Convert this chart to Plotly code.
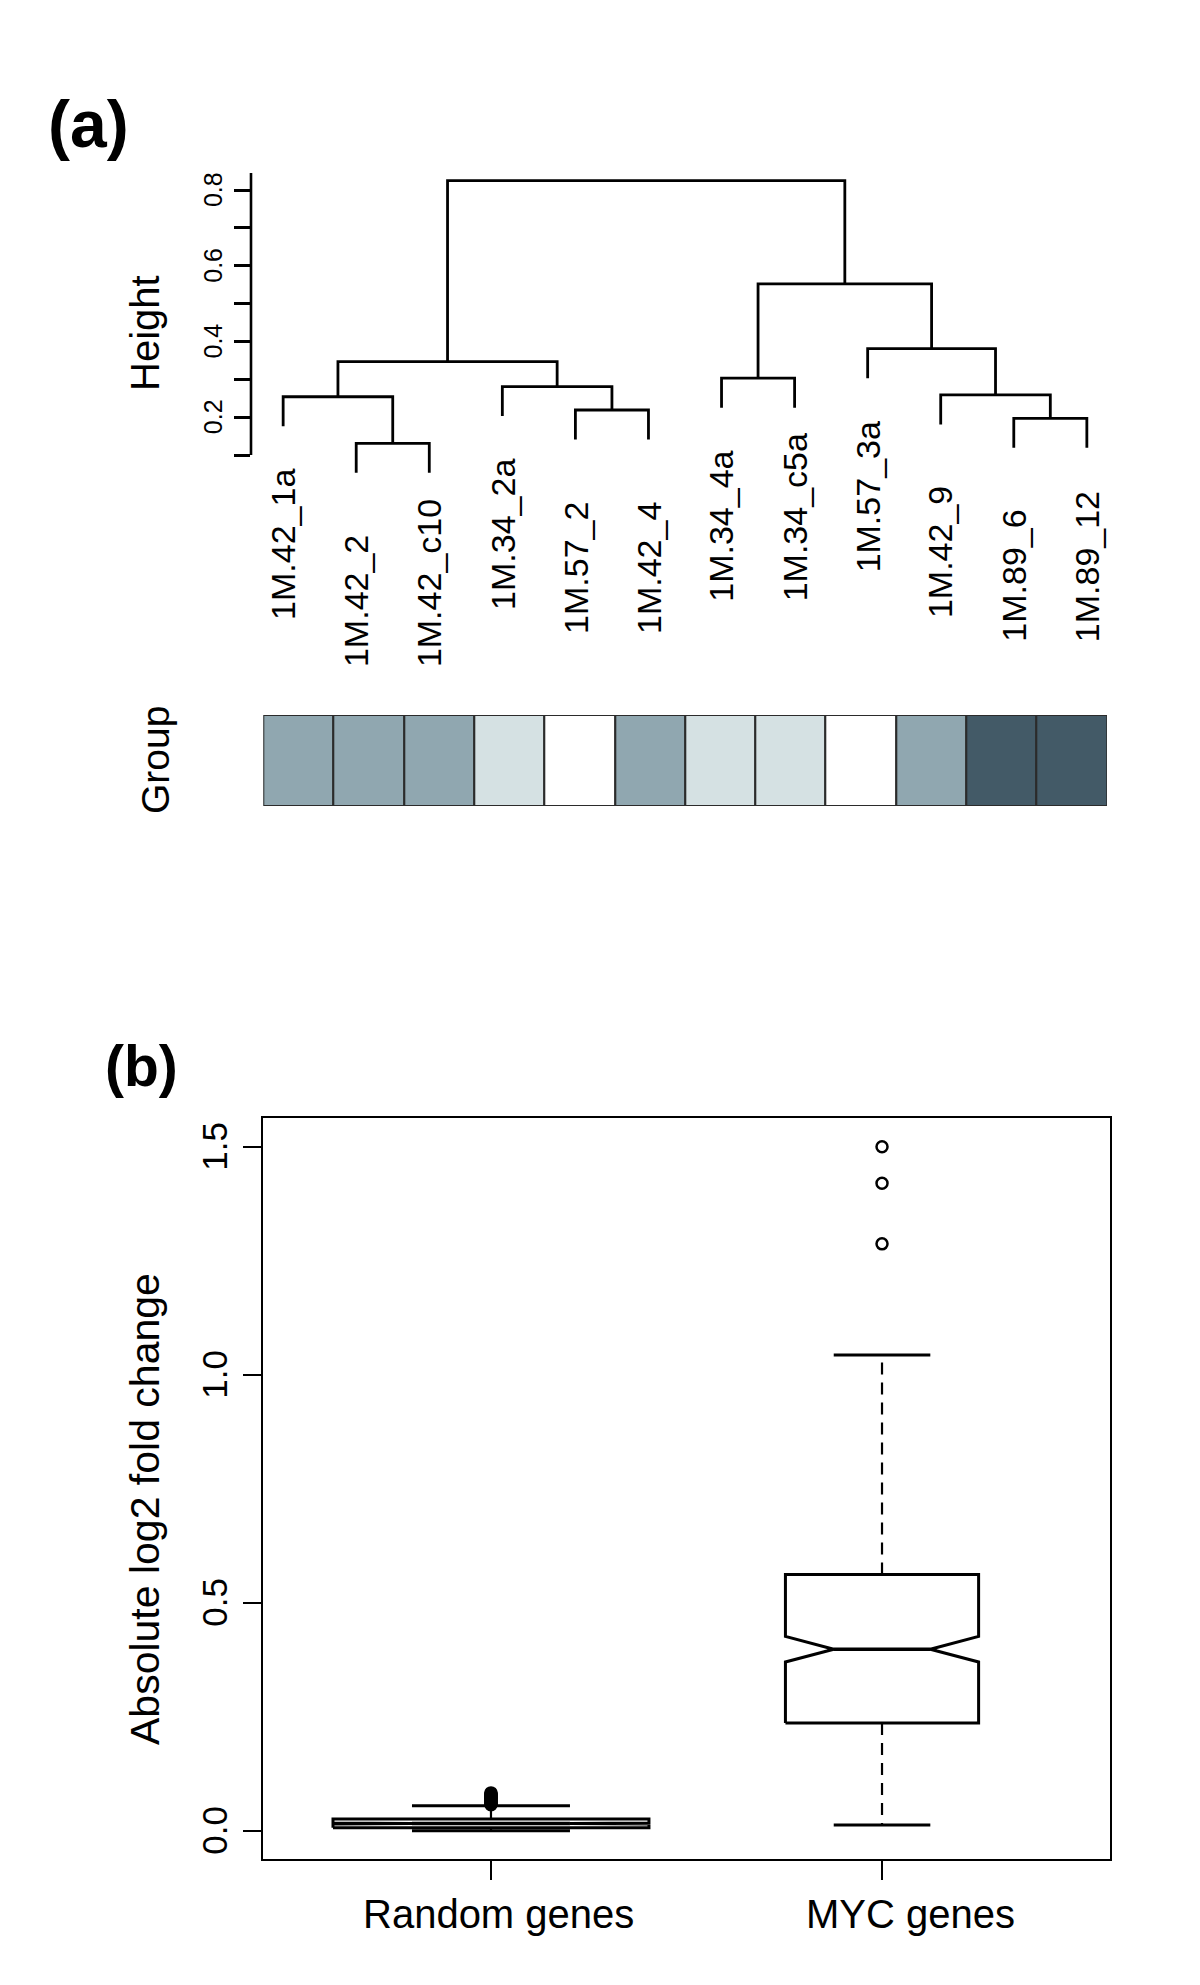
import plotly.graph_objects as go

W, H = 1200, 1985
FONT = "Liberation Sans, Arial, Helvetica, sans-serif"


def fx(p):
    return p / W


def fy(p):
    return 1 - p / H


# ---------------- Panel (a): dendrogram data ----------------
leaf_labels = ["1M.42_1a", "1M.42_2", "1M.42_c10", "1M.34_2a", "1M.57_2", "1M.42_4",
               "1M.34_4a", "1M.34_c5a", "1M.57_3a", "1M.42_9", "1M.89_6", "1M.89_12"]
# R-style merge matrix: negative = leaf (1-based, in display order), positive = earlier merge
merge_left = [-2, -1, -5, -4, 2, -11, -10, -7, -9, 8, 5]
merge_right = [-3, 1, -6, 3, 4, -12, 6, -8, 7, 9, 10]
merge_height = [0.131, 0.254, 0.219, 0.281, 0.347, 0.197, 0.259, 0.303, 0.381, 0.552, 0.825]
height_ticks = [0.1, 0.2, 0.3, 0.4, 0.5, 0.6, 0.7, 0.8]
height_ticklabels = ["", "0.2", "", "0.4", "", "0.6", "", "0.8"]

# group bar
leaf_group = ["1M.42", "1M.42", "1M.42", "1M.34", "1M.57", "1M.42",
              "1M.34", "1M.34", "1M.57", "1M.42", "1M.89", "1M.89"]
group_colors = {"1M.42": "#90A7B0", "1M.34": "#D5E1E3", "1M.57": "#FFFFFF", "1M.89": "#435A67"}

# ---------------- Panel (b): boxplot data ----------------
categories = ["Random genes", "MYC genes"]
q1 = [0.0066, 0.236]
median = [0.016, 0.398]
q3 = [0.0256, 0.562]
whisker_lo = [0.0, 0.0125]
whisker_hi = [0.0547, 1.043]
notch_lo = [0.0150, 0.370]
notch_hi = [0.0170, 0.426]
box_width = [0.808, 0.494]
outliers = [
    [0.057, 0.059, 0.061, 0.063, 0.065, 0.067, 0.069, 0.071, 0.073, 0.075, 0.077, 0.079, 0.081, 0.083],
    [1.287, 1.420, 1.500],
]
y_ticks_b = [0.0, 0.5, 1.0, 1.5]
y_ticklabels_b = ["0.0", "0.5", "1.0", "1.5"]

HANG = 0.078  # leaf hang below parent merge

fig = go.Figure()

# ---- dendrogram lines ----
n_leaf = len(leaf_labels)
leaf_x = list(range(1, n_leaf + 1))
node_x = {}
node_h = {}
xs, ys = [], []
leaf_bottom = [None] * n_leaf
for i, (a, b, h) in enumerate(zip(merge_left, merge_right, merge_height), start=1):
    pts = []
    for c in (a, b):
        if c < 0:
            cx = leaf_x[-c - 1]
            ch = h - HANG
            leaf_bottom[-c - 1] = ch
        else:
            cx = node_x[c]
            ch = node_h[c]
        pts.append((cx, ch))
    (xa, ha), (xb, hb) = pts
    xs += [xa, xa, xb, xb, None]
    ys += [ha, h, h, hb, None]
    node_x[i] = (xa + xb) / 2
    node_h[i] = h

fig.add_trace(go.Scatter(x=xs, y=ys, mode="lines", line=dict(color="black", width=2.8),
                         xaxis="x", yaxis="y", showlegend=False, hoverinfo="skip"))

# ---- group colour bar ----
fig.add_trace(go.Bar(x=leaf_x, y=[1] * n_leaf, base=0, width=1,
                     marker=dict(color=[group_colors[g] for g in leaf_group],
                                 line=dict(color="#2b2b2b", width=2)),
                     xaxis="x2", yaxis="y2", showlegend=False, hoverinfo="skip"))

# ---- boxplots ----
for i, cat in enumerate(categories):
    xc = i + 1
    w = box_width[i] / 2
    bx = [xc - w, xc - w, xc - w / 2, xc - w, xc - w, xc + w, xc + w, xc + w / 2, xc + w, xc + w, xc - w]
    by = [q1[i], notch_lo[i], median[i], notch_hi[i], q3[i], q3[i], notch_hi[i], median[i], notch_lo[i], q1[i], q1[i]]
    fig.add_trace(go.Scatter(x=bx, y=by, mode="lines", line=dict(color="black", width=3),
                             xaxis="x3", yaxis="y3", showlegend=False, hoverinfo="skip"))
    # median
    fig.add_trace(go.Scatter(x=[xc - w / 2, xc + w / 2], y=[median[i], median[i]], mode="lines",
                             line=dict(color="black", width=3.5),
                             xaxis="x3", yaxis="y3", showlegend=False, hoverinfo="skip"))
    # whiskers (dashed)
    fig.add_trace(go.Scatter(x=[xc, xc, None, xc, xc], y=[q3[i], whisker_hi[i], None, q1[i], whisker_lo[i]],
                             mode="lines", line=dict(color="black", width=2.2, dash="12px,8px"),
                             xaxis="x3", yaxis="y3", showlegend=False, hoverinfo="skip"))
    # staples
    s = w / 2
    fig.add_trace(go.Scatter(x=[xc - s, xc + s, None, xc - s, xc + s],
                             y=[whisker_hi[i], whisker_hi[i], None, whisker_lo[i], whisker_lo[i]],
                             mode="lines", line=dict(color="black", width=3),
                             xaxis="x3", yaxis="y3", showlegend=False, hoverinfo="skip"))
    # outliers
    fig.add_trace(go.Scatter(x=[xc] * len(outliers[i]), y=outliers[i], mode="markers",
                             marker=dict(symbol="circle-open", size=11, color="black", line=dict(width=2.5)),
                             xaxis="x3", yaxis="y3", showlegend=False, hoverinfo="skip"))

# ---------------- layout ----------------
DX0, DX1 = 251, 1119
DY_TOP, DY_BOT = 152.2, 492.9
annotations = []
shapes = []

# axis line of dendrogram (drawn from 0.1 to top)
shapes.append(dict(type="line", xref="x domain", yref="y", x0=0, x1=0, y0=height_ticks[0], y1=0.845,
                   line=dict(color="black", width=2.6)))

for v, t in zip(height_ticks, height_ticklabels):
    if t:
        annotations.append(dict(text=t, xref="paper", yref="y", x=fx(213), y=v, textangle=-90,
                                showarrow=False, xanchor="center", yanchor="middle",
                                font=dict(family=FONT, size=25, color="black")))

for xv, lb, lab in zip(leaf_x, leaf_bottom, leaf_labels):
    annotations.append(dict(text=lab, xref="x", yref="y", x=xv, y=lb, textangle=-90, showarrow=False,
                            xanchor="center", yanchor="bottom", yshift=-196,
                            font=dict(family=FONT, size=34, color="black")))

# panel (b) tick labels
for v, t in zip(y_ticks_b, y_ticklabels_b):
    annotations.append(dict(text=t, xref="paper", yref="y3", x=fx(215), y=v, textangle=-90,
                            showarrow=False, xanchor="center", yanchor="middle",
                            font=dict(family=FONT, size=35, color="black")))
x_label_shift = [8, 28]
for i, cat in enumerate(categories):
    annotations.append(dict(text=cat, xref="x3", yref="paper", x=i + 1, y=fy(1914), xshift=x_label_shift[i],
                            showarrow=False, xanchor="center", yanchor="middle",
                            font=dict(family=FONT, size=40, color="black")))

# titles / panel letters
annotations += [
    dict(text="<b>(a)</b>", xref="paper", yref="paper", x=fx(88), y=fy(124), showarrow=False,
         xanchor="center", yanchor="middle", font=dict(family=FONT, size=66, color="black")),
    dict(text="<b>(b)</b>", xref="paper", yref="paper", x=fx(141), y=fy(1066), showarrow=False,
         xanchor="center", yanchor="middle", font=dict(family=FONT, size=57, color="black")),
    dict(text="Height", xref="paper", yref="paper", x=fx(145), y=fy(333), textangle=-90, showarrow=False,
         xanchor="center", yanchor="middle", font=dict(family=FONT, size=40, color="black")),
    dict(text="Group", xref="paper", yref="paper", x=fx(155), y=fy(760), textangle=-90, showarrow=False,
         xanchor="center", yanchor="middle", font=dict(family=FONT, size=39, color="black")),
    dict(text="Absolute log2 fold change", xref="paper", yref="paper", x=fx(145), y=fy(1509),
         textangle=-90, showarrow=False, xanchor="center", yanchor="middle",
         font=dict(family=FONT, size=41, color="black")),
]

fig.update_layout(
    width=W, height=H, margin=dict(l=0, r=0, t=0, b=0),
    paper_bgcolor="white", plot_bgcolor="rgba(0,0,0,0)",
    showlegend=False, bargap=0,
    xaxis=dict(domain=[fx(DX0), fx(DX1)], range=[0.56, 12.44], visible=False),
    yaxis=dict(domain=[fy(DY_BOT), fy(DY_TOP)], range=[0, 0.9], showgrid=False, zeroline=False,
               showline=False, tickvals=height_ticks, ticks="outside", ticklen=16, tickwidth=2.6,
               tickcolor="black", showticklabels=False, anchor="x"),
    xaxis2=dict(domain=[fx(263.3), fx(1107)], range=[0.5, 12.5], visible=False, anchor="y2"),
    yaxis2=dict(domain=[fy(806), fy(715)], range=[0, 1], visible=False, anchor="x2"),
    xaxis3=dict(domain=[fx(263), fx(1110)], range=[0.417, 2.583], showgrid=False, zeroline=False,
                showline=True, mirror=True, linecolor="black", linewidth=2,
                tickvals=[1, 2], ticks="outside", ticklen=19, tickwidth=2, tickcolor="black",
                showticklabels=False, anchor="y3"),
    yaxis3=dict(domain=[fy(1859), fy(1118)], range=[-0.062, 1.563], showgrid=False, zeroline=False,
                showline=True, mirror=True, linecolor="black", linewidth=2,
                tickvals=y_ticks_b, ticks="outside", ticklen=18, tickwidth=2, tickcolor="black",
                showticklabels=False, anchor="x3"),
    annotations=annotations,
    shapes=shapes,
)

fig.write_html("out.html", config={"displayModeBar": False},
               post_script="document.body.style.margin='0';document.body.style.padding='0';")
